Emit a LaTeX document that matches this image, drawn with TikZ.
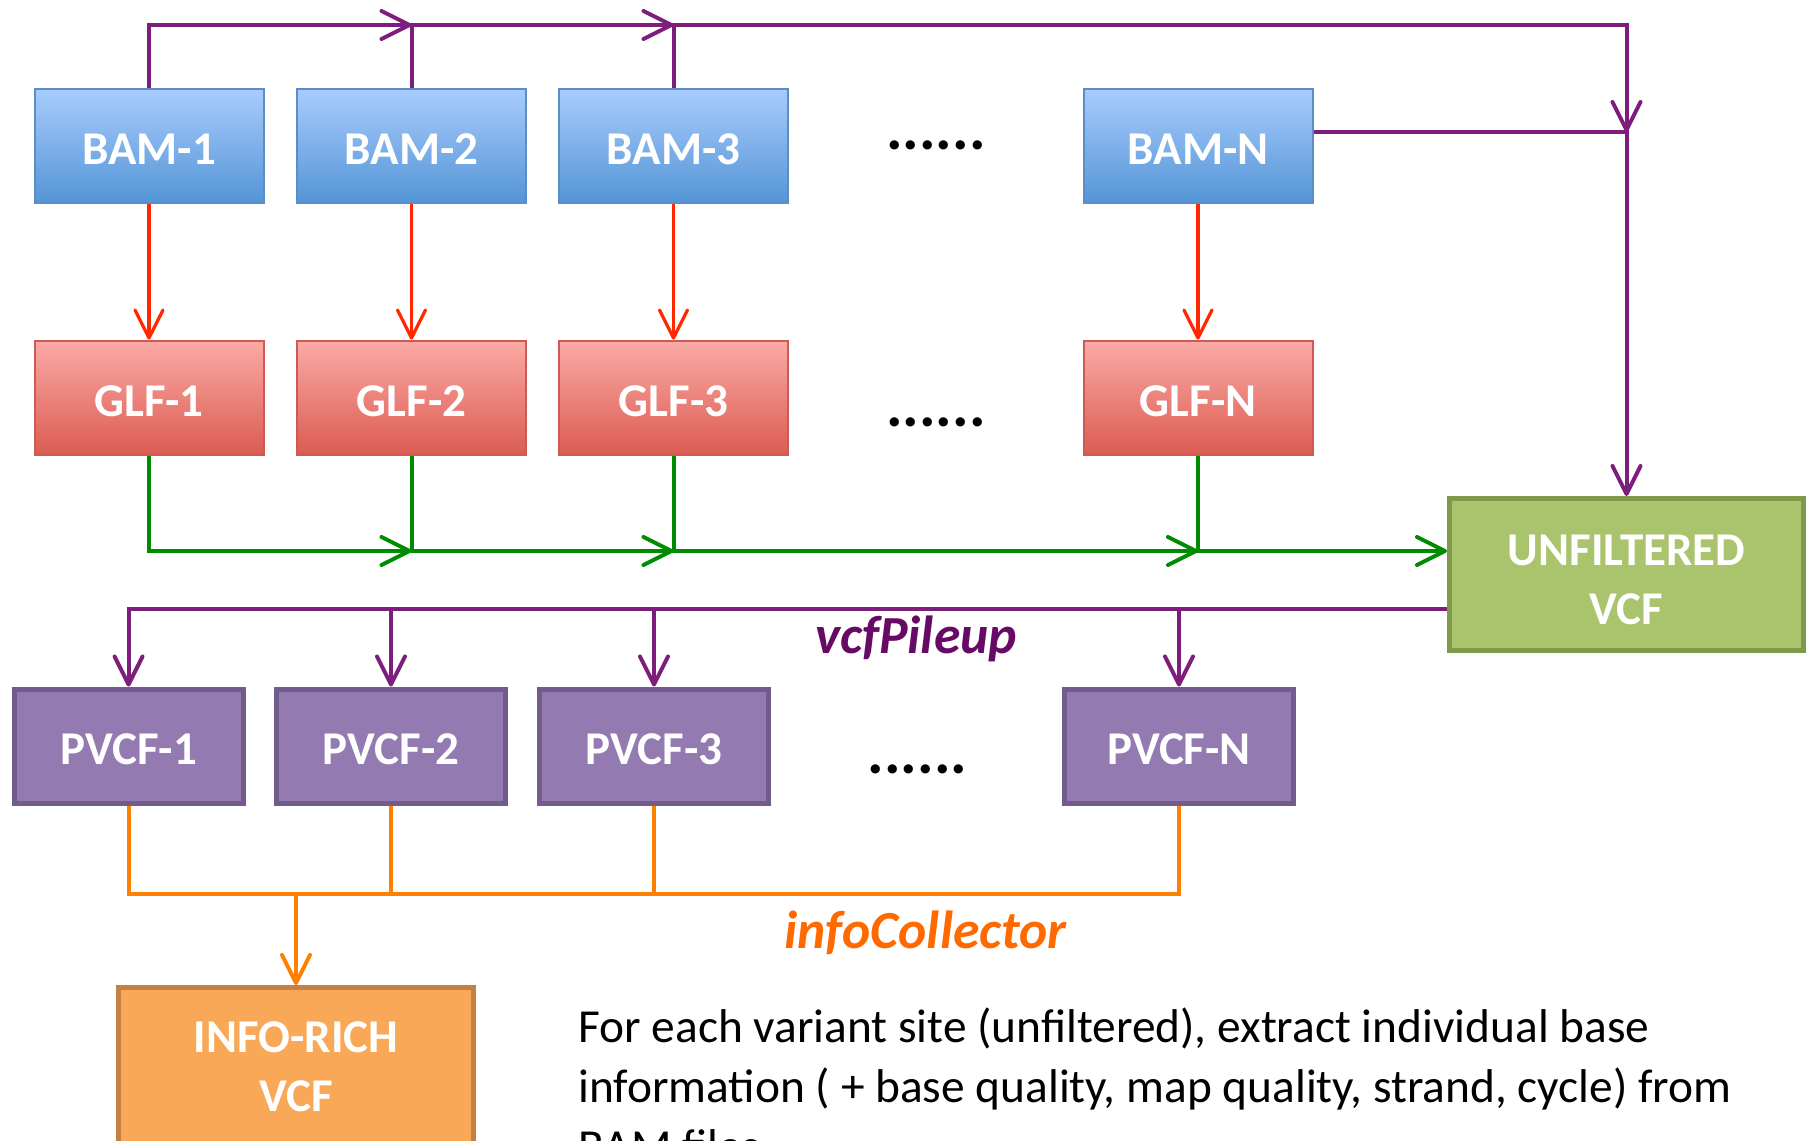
\documentclass[tikz,border=0pt]{standalone}
\usepackage{fontspec}
\setmainfont{Carlito}
\usetikzlibrary{arrows.meta}
\definecolor{bamtop}{HTML}{A9CCFC}
\definecolor{bambot}{HTML}{5495D7}
\definecolor{bamborder}{HTML}{5B8EC6}
\definecolor{glftop}{HTML}{FBAAA6}
\definecolor{glfbot}{HTML}{DB5C51}
\definecolor{glfborder}{HTML}{CD5B55}
\definecolor{pvfill}{HTML}{937AB0}
\definecolor{pvborder}{HTML}{715C8C}
\definecolor{uvfill}{HTML}{AAC46D}
\definecolor{uvborder}{HTML}{7E9A48}
\definecolor{irfill}{HTML}{F9A858}
\definecolor{irborder}{HTML}{C48143}
\definecolor{purln}{HTML}{7E1E7C}
\definecolor{redln}{HTML}{FF2800}
\definecolor{grnln}{HTML}{008C00}
\definecolor{orgln}{HTML}{FF7F00}
\definecolor{vptext}{HTML}{660A66}
\definecolor{ictext}{HTML}{FF6A00}
\begin{document}
\begin{tikzpicture}[x=0.5pt,y=-0.5pt,
  boxlabel/.style={inner sep=0pt, text=white, align=center, text depth=0pt, text height=18.6pt,
    font=\fontsize{23.5}{29.5}\selectfont\bfseries},
  bambox/.style={boxlabel, draw=bamborder, line width=1pt, top color=bamtop, bottom color=bambot,
    minimum width=114.5pt, minimum height=57pt},
  glfbox/.style={boxlabel, draw=glfborder, line width=1pt, top color=glftop, bottom color=glfbot,
    minimum width=114.5pt, minimum height=57pt},
  pvbox/.style={boxlabel, draw=pvborder, line width=2.5pt, fill=pvfill,
    minimum width=114.5pt, minimum height=57pt},
  uvbox/.style={boxlabel, draw=uvborder, line width=2.5pt, fill=uvfill, text height=49.6pt,
    minimum width=177pt, minimum height=76pt},
  irbox/.style={boxlabel, draw=irborder, line width=2.5pt, fill=irfill, text height=45.8pt,
    minimum width=177.5pt, minimum height=78.5pt},
  tip/.style={-{Straight Barb[length=14pt,width=14pt,round]}},
  purl/.style={draw=purln, line width=2pt},
  redl/.style={draw=redln, line width=1.6pt},
  grnl/.style={draw=grnln, line width=2pt},
  orgl/.style={draw=orgln, line width=2pt},
  dotsl/.style={inner sep=0pt, font=\fontsize{31}{31}\selectfont\bfseries},
  body/.style={inner sep=0pt, anchor=base west, font=\fontsize{23.7}{30}\selectfont},
  proc/.style={inner sep=0pt, anchor=base, font=\fontsize{26.8}{26.8}\selectfont\bfseries\itshape},
]
\useasboundingbox (0,0) rectangle (1812,1141);
\clip (0,0) rectangle (1812,1141);

% boxes
\node[bambox] (b1) at (149,145.6) {BAM-1};
\node[bambox] (b2) at (411.5,145.6) {BAM-2};
\node[bambox] (b3) at (673.5,145.6) {BAM-3};
\node[bambox] (bn) at (1198,145.6) {BAM-N};
\node[glfbox] (g1) at (149,397.6) {GLF-1};
\node[glfbox] (g2) at (411.5,397.6) {GLF-2};
\node[glfbox] (g3) at (673.5,397.6) {GLF-3};
\node[glfbox] (gn) at (1198,397.6) {GLF-N};
\node[uvbox] (uv) at (1626.5,574.5) {UNFILTERED\\VCF};
\node[pvbox] (p1) at (128.6,746) {PVCF-1};
\node[pvbox] (p2) at (391,746) {PVCF-2};
\node[pvbox] (p3) at (654,746) {PVCF-3};
\node[pvbox] (pn) at (1179,746) {PVCF-N};
\node[irbox] (ir) at (296,1066) {INFO-RICH\\VCF};

% dots
\node[dotsl] (d1) at (936,145) {......};
\node[dotsl] (d2) at (936,422) {......};
\node[dotsl] (d3) at (917.5,769) {......};

% level coordinates
\coordinate (ty) at (0,25);
\coordinate (jn) at (1626.5,132);
\coordinate (gy) at (0,551);
\coordinate (py) at (0,609);
\coordinate (oy) at (0,894);

% top purple lines
\draw[purl,tip] (b1.north) |- (b2.north |- ty);
\draw[purl,tip] (b2.north) |- (b3.north |- ty);
\draw[purl,tip] (b3.north) |- (jn |- ty) -- (jn);
\draw[purl,tip] (bn.east |- jn) -- (jn) -- (uv.north);

% red arrows
\draw[redl,tip] (b1) -- (g1);
\draw[redl,tip] (b2) -- (g2);
\draw[redl,tip] (b3) -- (g3);
\draw[redl,tip] (bn) -- (gn);

% green lines
\draw[grnl,tip] (g1.south) |- (g2.south |- gy);
\draw[grnl,tip] (g2.south) |- (g3.south |- gy);
\draw[grnl,tip] (g3.south) |- (gn.south |- gy);
\draw[grnl,tip] (gn.south) |- (uv.west |- gy);

% lower purple lines
\draw[purl,tip] (uv.west |- py) -| (p1.north);
\draw[purl,tip] (p2.north |- py) -- (p2.north);
\draw[purl,tip] (p3.north |- py) -- (p3.north);
\draw[purl,tip] (pn.north |- py) -- (pn.north);

% orange lines
\draw[orgl] (p1.south) -- (p1.south |- oy) -- (pn.south |- oy) -- (pn.south);
\draw[orgl] (p2.south) -- (p2.south |- oy);
\draw[orgl] (p3.south) -- (p3.south |- oy);
\draw[orgl,tip] (ir.north |- oy) -- (ir.north);

% labels
\node[proc, text=vptext] (vp) at (916,653) {vcfPileup};
\node[proc, text=ictext] (ic) at (925.6,948) {infoCollector};

% body text
\node[body] (t1) at (578,1042) {For each variant site (unfiltered), extract individual base};
\node[body] (t2) at (578,1102) {information ( + base quality, map quality, strand, cycle) from};
\node[body] (t3) at (578,1162) {BAM files};
\end{tikzpicture}
\end{document}
